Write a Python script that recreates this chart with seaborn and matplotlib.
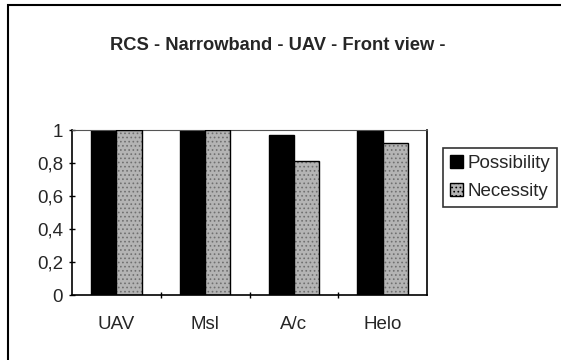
import matplotlib
matplotlib.use("Agg")
import matplotlib.pyplot as plt
import matplotlib.patches as mpatches
from matplotlib.ticker import FixedLocator, FuncFormatter
import pandas as pd
import seaborn as sns

categories = ["UAV", "Msl", "A/c", "Helo"]
possibility = [1.0, 1.0, 0.97, 1.0]
necessity = [1.0, 1.0, 0.81, 0.92]
series_names = ["Possibility", "Necessity"]
y_ticks = [0, 0.2, 0.4, 0.6, 0.8, 1.0]
title = "RCS - Narrowband - UAV - Front view -"

df = pd.DataFrame({
    "category": categories * 2,
    "value": possibility + necessity,
    "series": [series_names[0]] * len(categories) + [series_names[1]] * len(categories),
})

sns.set_style("white")
plt.rcParams["font.family"] = ["Liberation Sans", "DejaVu Sans"]
plt.rcParams["hatch.linewidth"] = 0.7

fig = plt.figure(figsize=(5.61, 3.6), dpi=100)
ax = fig.add_axes([72 / 561, 1 - 295 / 360, 355 / 561, 165 / 360])

gray = "#b4b4b4"
palette = {"Possibility": "#000000", "Necessity": gray}
sns.barplot(data=df, x="category", y="value", hue="series", order=categories,
            hue_order=series_names, palette=palette, width=0.571, saturation=1,
            edgecolor="black", linewidth=1.0, ax=ax, legend=False)

# stippled texture on the second series, with a black outline on top
for bar in ax.containers[1]:
    bar.set_hatch("....")
    bar.set_edgecolor("#707070")
    bar.set_linewidth(0.0)
    ax.add_patch(mpatches.Rectangle(bar.get_xy(), bar.get_width(), bar.get_height(),
                                    fill=False, edgecolor="black", linewidth=1.0, zorder=3))

ax.set_xlim(-0.5, len(categories) - 0.5)
ax.set_ylim(0, 1)
ax.set_yticks(y_ticks)
ax.yaxis.set_major_formatter(FuncFormatter(lambda v, p: ("%g" % v).replace(".", ",")))
ax.set_xlabel("")
ax.set_ylabel("")

ax.xaxis.set_minor_locator(FixedLocator([0.5, 1.5, 2.5]))
ax.tick_params(axis="x", which="major", length=0, pad=15, labelsize=13.5)
ax.tick_params(axis="x", which="minor", length=5, width=1, direction="inout", color="black", bottom=True)
ax.tick_params(axis="y", which="major", length=5, width=1, direction="inout", color="black",
               left=True, pad=4, labelsize=13.5)

for side in ["left", "right", "top", "bottom"]:
    ax.spines[side].set_visible(True)
    ax.spines[side].set_color("black")
    ax.spines[side].set_linewidth(1.2)
ax.spines["top"].set_color("#555555")
ax.spines["top"].set_linewidth(0.8)

fig.text(0.495, 1 - 45 / 360, title, ha="center", va="center",
         fontsize=13.2, fontweight="bold")

handles = [mpatches.Patch(facecolor="#000000", edgecolor="black", label=series_names[0]),
           mpatches.Patch(facecolor=gray, edgecolor="black", hatch="....", label=series_names[1])]
leg = fig.legend(handles=handles, loc="upper left", bbox_to_anchor=(443 / 561, 1 - 148 / 360),
                 frameon=True, fancybox=False, fontsize=13.5, handlelength=0.7, handleheight=0.7,
                 handletextpad=0.25, borderpad=0.35, labelspacing=0.6, borderaxespad=0)
leg.get_frame().set_edgecolor("black")
leg.get_frame().set_linewidth(1.2)

# outer chart border
fig.patches.append(mpatches.Rectangle((8 / 561, -0.1), 1.2, 1 - 5 / 360 + 0.1,
                                      transform=fig.transFigure, fill=False,
                                      edgecolor="black", linewidth=1.5))

fig.savefig("out.png", dpi=100)
